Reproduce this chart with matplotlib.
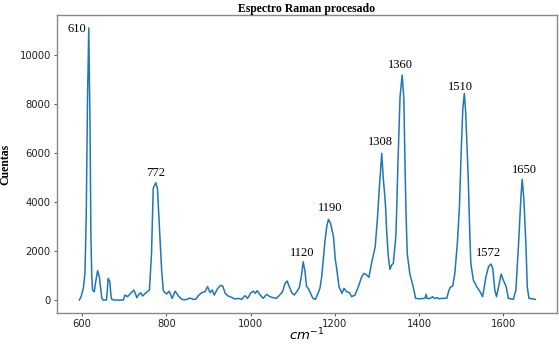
import matplotlib
matplotlib.use("Agg")
import matplotlib.pyplot as plt

# Raman shift (cm^-1) and counts
wavenumber = [593.6, 598, 603, 607, 610, 613, 616, 619, 621, 623, 625, 629, 632, 637, 641, 644, 647, 650,
              658, 660, 662, 666, 668, 670, 675, 698, 702, 708, 714, 719, 723, 727, 730, 734, 739, 744,
              750, 755, 760, 765, 769, 775, 779, 785, 789, 793, 797, 801, 807, 814, 821, 829, 837, 843,
              849, 856, 864, 870, 876, 884, 892, 898, 904, 909, 914, 922, 929, 934, 940, 947, 955, 963,
              971, 979, 987, 993, 1001, 1007, 1011, 1016, 1023, 1030, 1038, 1046, 1054, 1061, 1068, 1076,
              1082, 1087, 1092, 1098, 1104, 1110, 1116, 1121, 1125, 1129, 1133, 1138, 1141, 1148, 1154,
              1161, 1165, 1169, 1173, 1177, 1181, 1185, 1190, 1197, 1201, 1205, 1210, 1217, 1222, 1228,
              1235, 1240, 1248, 1256, 1264, 1269, 1276, 1281, 1288, 1296, 1301, 1306, 1311.5, 1315, 1319,
              1321, 1323, 1327, 1331, 1335, 1339, 1345, 1347, 1350, 1355, 1360, 1364, 1367, 1369, 1372,
              1378, 1386, 1392, 1400, 1410, 1414, 1417, 1419, 1426, 1432, 1437, 1443, 1448, 1454, 1466,
              1470, 1474, 1480, 1485, 1491, 1496, 1500, 1504, 1507.6, 1511, 1514, 1517, 1521, 1523, 1529,
              1537, 1545, 1551, 1559, 1565, 1571, 1575, 1580, 1584, 1589, 1595, 1600, 1607, 1612, 1624,
              1630, 1636, 1642, 1645, 1649, 1654, 1657, 1661, 1676]
counts = [0, 150, 475, 1100, 3500, 8200, 11100, 7000, 2652, 1000, 408, 340, 700, 1196, 952, 500, 70, 0,
          0, 400, 885, 748, 300, 40, 0, 0, 204, 136, 245, 330, 408, 250, 95, 204, 299, 163,
          272, 340, 408, 1905, 4557, 4787, 4557, 2583, 1200, 380, 300, 245, 360, 68, 360, 163, 27, 10,
          27, 82, 27, 30, 177, 299, 340, 544, 299, 408, 204, 476, 598, 570, 272, 163, 109, 41,
          68, 27, 177, 68, 299, 360, 272, 380, 204, 68, 231, 136, 95, 68, 177, 340,
          680, 775, 544, 299, 204, 350, 517, 1000, 1560, 1200, 560, 450, 340, 68, 27,
          300, 500, 952, 1700, 2448, 3000, 3292, 3129, 2584, 1700, 1224, 544, 272, 476, 340,
          299, 136, 204, 544, 952, 1088, 1020, 925, 1564, 2176, 3264, 4624, 5985, 5000, 4200,
          3672, 2856, 1800, 1251, 1428, 1496, 2600, 3672, 5600, 8300, 9180, 8200, 5300, 3672, 1905,
          1088, 544, 68, 50, 60, 68, 231, 68, 60, 136, 60, 95, 50, 68, 68,
          340, 517, 571, 1088, 2312, 3808, 6000, 7800, 8433, 7600, 6300, 4896, 2448, 1496, 816,
          544, 340, 136, 952, 1360, 1469, 1292, 408, 136, 544, 1061, 816, 544, 68, 27,
          408, 2176, 4216, 4924, 4080, 2176, 544, 68, 27]

peak_labels = ["610", "772", "1120", "1190", "1308", "1360", "1510", "1572", "1650"]
label_x = [610, 775, 1121.6, 1189, 1309.5, 1357, 1499, 1566, 1650]
label_y = [11050, 5170, 1904, 3740, 6460, 9588, 8703, 1904, 5304]

fig = plt.figure(figsize=(5.59, 3.44), dpi=100)
ax = fig.add_axes([0.102, 0.0901, 0.8945, 0.8663])

ax.plot(wavenumber, counts, color="#1f77b4", lw=1.1)

for txt, lx, ly in zip(peak_labels, label_x, label_y):
    if txt == "610":
        ax.text(lx, ly, txt, ha="right", va="center", fontsize=9,
                family="Liberation Serif")
    else:
        ax.text(lx, ly, txt, ha="center", va="center", fontsize=9,
                family="Liberation Serif")

ax.set_xlim(540.6, 1727.7)
ax.set_ylim(-530, 11630)
ax.set_xticks([600, 800, 1000, 1200, 1400, 1600])
ax.set_yticks([0, 2000, 4000, 6000, 8000, 10000])
ax.tick_params(labelsize=7.2, length=2.5, width=0.7, color="#555555", labelcolor="#222222", pad=2)
for s in ax.spines.values():
    s.set_color("#888888")
    s.set_linewidth(1.0)

ax.set_title("Espectro Raman procesado", fontsize=8.5, fontweight="bold",
             family="Liberation Serif", pad=2)
ax.set_ylabel("Cuentas", fontsize=8.5, fontweight="bold", family="Liberation Serif", labelpad=6)
ax.set_xlabel("$cm^{-1}$", fontsize=9.5)
ax.xaxis.set_label_coords(0.5, -0.045)

fig.savefig("out.png", dpi=100)
